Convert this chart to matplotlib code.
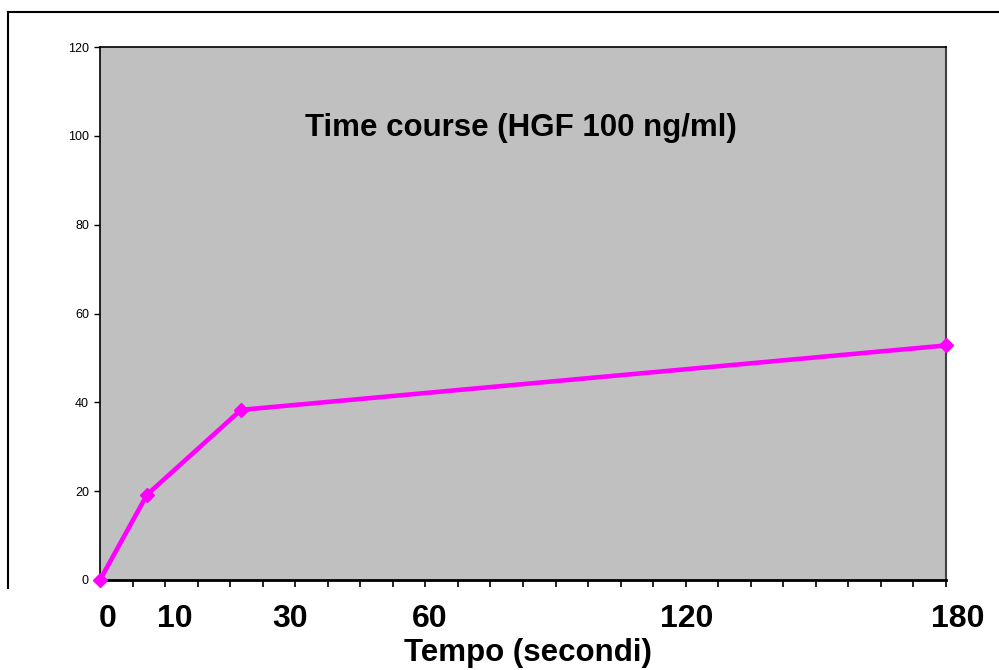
import numpy as np
import matplotlib.pyplot as plt
from matplotlib.lines import Line2D

plt.rcParams['font.family'] = ['Liberation Sans', 'DejaVu Sans']

# data
time_s = [0, 10, 30, 180]
signal = [0, 19.2, 38.3, 52.8]
time_labels = ['0', '10', '30', '60', '120', '180']
label_x = [108, 175, 290, 430, 687, 958]  # pixel centres of the hand-placed labels

fig = plt.figure(figsize=(9.99, 6.70), dpi=100)
ax = fig.add_axes([100 / 999, 90 / 670, 846 / 999, 533 / 670])

ax.set_facecolor('#C0C0C0')
ax.plot(time_s, signal, color='#FF00FF', linewidth=3.3, marker='D',
        markersize=7.5, markeredgecolor='#FF00FF', clip_on=False, zorder=5)

ax.set_xlim(0, 180)
ax.set_ylim(0, 120)
ax.set_yticks(np.arange(0, 121, 20))
ax.set_xticks(np.linspace(0, 180, 27))
ax.tick_params(axis='x', direction='out', length=5, width=1.2, labelbottom=False)
ax.tick_params(axis='y', direction='out', length=4, width=1, labelsize=9, pad=4)

for side in ['top', 'left', 'bottom']:
    ax.spines[side].set_linewidth(1.2)
ax.spines['bottom'].set_linewidth(2)
ax.spines['right'].set_color('#404040')
ax.spines['right'].set_linewidth(1.5)

ax.text(0.497, 0.848, 'Time course (HGF 100 ng/ml)', transform=ax.transAxes,
        ha='center', va='center', fontsize=22.5, fontweight='bold')

# hand-typed axis labels under the chart
for lab, px in zip(time_labels, label_x):
    fig.text(px / 999, 1 - 619 / 670, lab, ha='center', va='center',
             fontsize=23, fontweight='bold')
fig.text(528 / 999, 1 - 653 / 670, 'Tempo (secondi)', ha='center', va='center',
         fontsize=22.5, fontweight='bold')

# chart frame (cropped)
fig.add_artist(Line2D([8 / 999, 1.0], [1 - 12 / 670, 1 - 12 / 670],
                      color='black', linewidth=1.5, transform=fig.transFigure))
fig.add_artist(Line2D([8 / 999, 8 / 999], [1 - 12 / 670, 1 - 588 / 670],
                      color='black', linewidth=1.5, transform=fig.transFigure))

plt.savefig('out.png', dpi=100)
